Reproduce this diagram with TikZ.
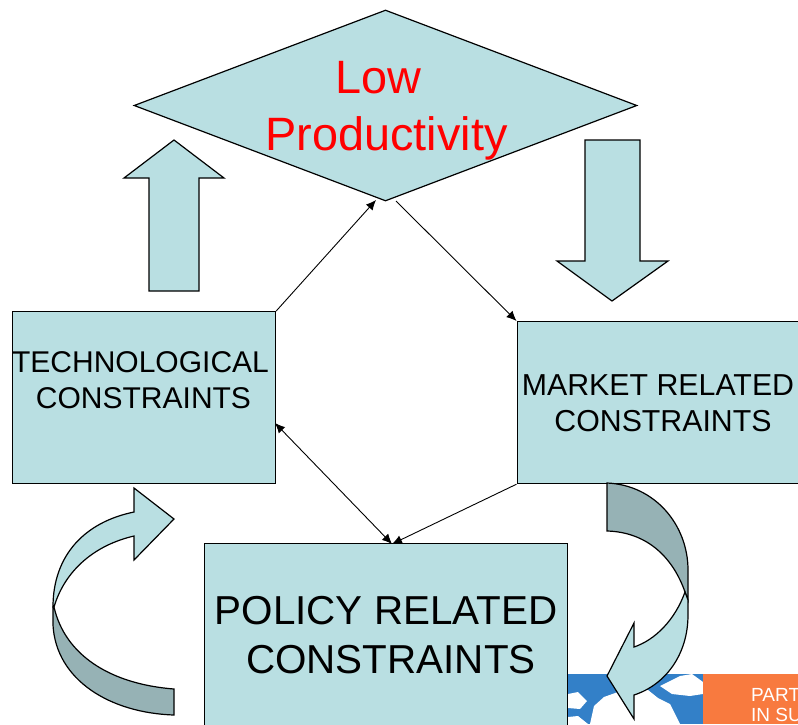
\documentclass[tikz,border=0pt]{standalone}
\usepackage{fontspec}
\setmainfont{Liberation Sans}
\usetikzlibrary{shapes.geometric,arrows.meta}
\definecolor{boxfill}{HTML}{B9DFE2}
\definecolor{shade}{HTML}{96B2B5}
\definecolor{sky}{HTML}{3380C8}
\definecolor{orangebox}{HTML}{F87A3F}
\tikzset{
  shapebox/.style={draw=black,fill=boxfill,line width=1.2pt,line join=miter},
  darkbox/.style={draw=black,fill=shade,line width=1.2pt},
  panel/.style={rectangle,shapebox,inner sep=0pt,anchor=north west},
  link/.style={draw=black,line width=0.9pt,-{Latex[length=10pt,width=9pt]}},
  twoway/.style={draw=black,line width=0.9pt,{Latex[length=10pt,width=9pt]}-{Latex[length=10pt,width=9pt]}},
  lbl/.style={align=center,inner sep=0pt,text=black},
  puff/.style={fill=white,draw=none}
}
\begin{document}
\begin{tikzpicture}[x=1pt,y=-1pt]
\useasboundingbox (0,0) rectangle (798,724);
\clip (0,0) rectangle (798,724);
\fill[white] (0,0) rectangle (798,724);
% picture strip
\fill[sky] (568,674) rectangle (703,724);
\begin{scope}
\clip (568,674) rectangle (703,724);
\fill[puff] (590,724) -- (594,706) -- (604,697) -- (618,692) -- (632,688) -- (648,690) -- (658,698) -- (670,704) -- (680,724) -- cycle;
\fill[puff] (568,694) -- (578,692) -- (587,701) -- (580,709) -- (568,708) -- cycle;
\fill[puff] (660,686) -- (672,680) -- (680,676) -- (692,674) -- (703,682) -- (703,694) -- (690,696) -- (672,694) -- cycle;
\fill[puff] (568,724) -- (568,717) -- (578,716) -- (588,724) -- cycle;
\end{scope}
\fill[orangebox] (703,674) rectangle (798,724);
\node[anchor=base west,inner sep=0pt,text=white,font=\fontsize{19}{20}\selectfont] (part) at (751,701) {PART};
\node[anchor=base west,inner sep=0pt,text=white,font=\fontsize{19}{20}\selectfont] (insu) at (751,721) {IN SU};
% panels
\node[diamond,shapebox,inner sep=0pt,minimum width=503pt,minimum height=191pt,aspect=2.63] (top) at (385.5,105.5) {};
\node[panel,minimum width=263pt,minimum height=172pt] (tech) at (12,311) {};
\node[panel,minimum width=300pt,minimum height=162pt] (market) at (516.5,321) {};
\node[panel,minimum width=363pt,minimum height=200pt] (policy) at (204,543) {};
% block arrows
\draw[shapebox] (174,140) -- (224,178) -- (199,178) -- (199,291) -- (149,291) -- (149,178) -- (124,178) -- cycle;
\draw[shapebox] (585,140) -- (640,140) -- (640,261) -- (668,261) -- (612,301) -- (557,261) -- (585,261) -- cycle;
% curved arrow, left
\draw[darkbox] (174,689) .. controls (110,684) and (65,655) .. (54,607) -- (53,607) -- (53,625) .. controls (56,680) and (110,713) .. (174,715) -- cycle;
\draw[shapebox] (53,607) .. controls (53,555) and (85,522) .. (134,512) -- (134,488) -- (174,519) -- (134,560) -- (134,536) .. controls (95,545) and (65,570) .. (54,607) -- cycle;
% curved arrow, right
\draw[darkbox] (607,483) .. controls (655,485) and (688,525) .. (688,570) -- (688,600) -- (685,592) .. controls (672,555) and (645,532) .. (607,531) -- cycle;
\draw[shapebox] (685,592) .. controls (675,620) and (655,640) .. (634,647) -- (634,623) -- (607,676) -- (634,719) -- (634,695) .. controls (665,685) and (688,655) .. (688,615) -- (688,600) -- cycle;
% connectors
\coordinate (topin) at (376,200);
\coordinate (topout) at (396,201);
\coordinate (policyin) at (392,544);
\coordinate (techin) at (275,423);
\draw[link] (tech.north east) -- (topin);
\draw[link] (topout) -- (market.north west);
\draw[link] (market.south west) -- (policyin);
\draw[twoway] (techin) -- (policyin);
% labels
\node[lbl,text=red,font=\fontsize{46.8}{57}\selectfont] (toplabel) at (386.5,111) {\hspace*{-16pt}Low\\Productivity};
\node[lbl,font=\fontsize{30}{36}\selectfont] (techlabel) at (140.5,380) {TECHNOLOGICAL\\\hspace*{6pt}CONSTRAINTS};
\node[lbl,font=\fontsize{30.3}{36}\selectfont] (marketlabel) at (658,403) {MARKET RELATED\\\hspace*{10pt}CONSTRAINTS};
\node[lbl,font=\fontsize{40.4}{49}\selectfont] (policylabel) at (386,635) {POLICY RELATED\\\hspace*{10pt}CONSTRAINTS};
\end{tikzpicture}
\end{document}
